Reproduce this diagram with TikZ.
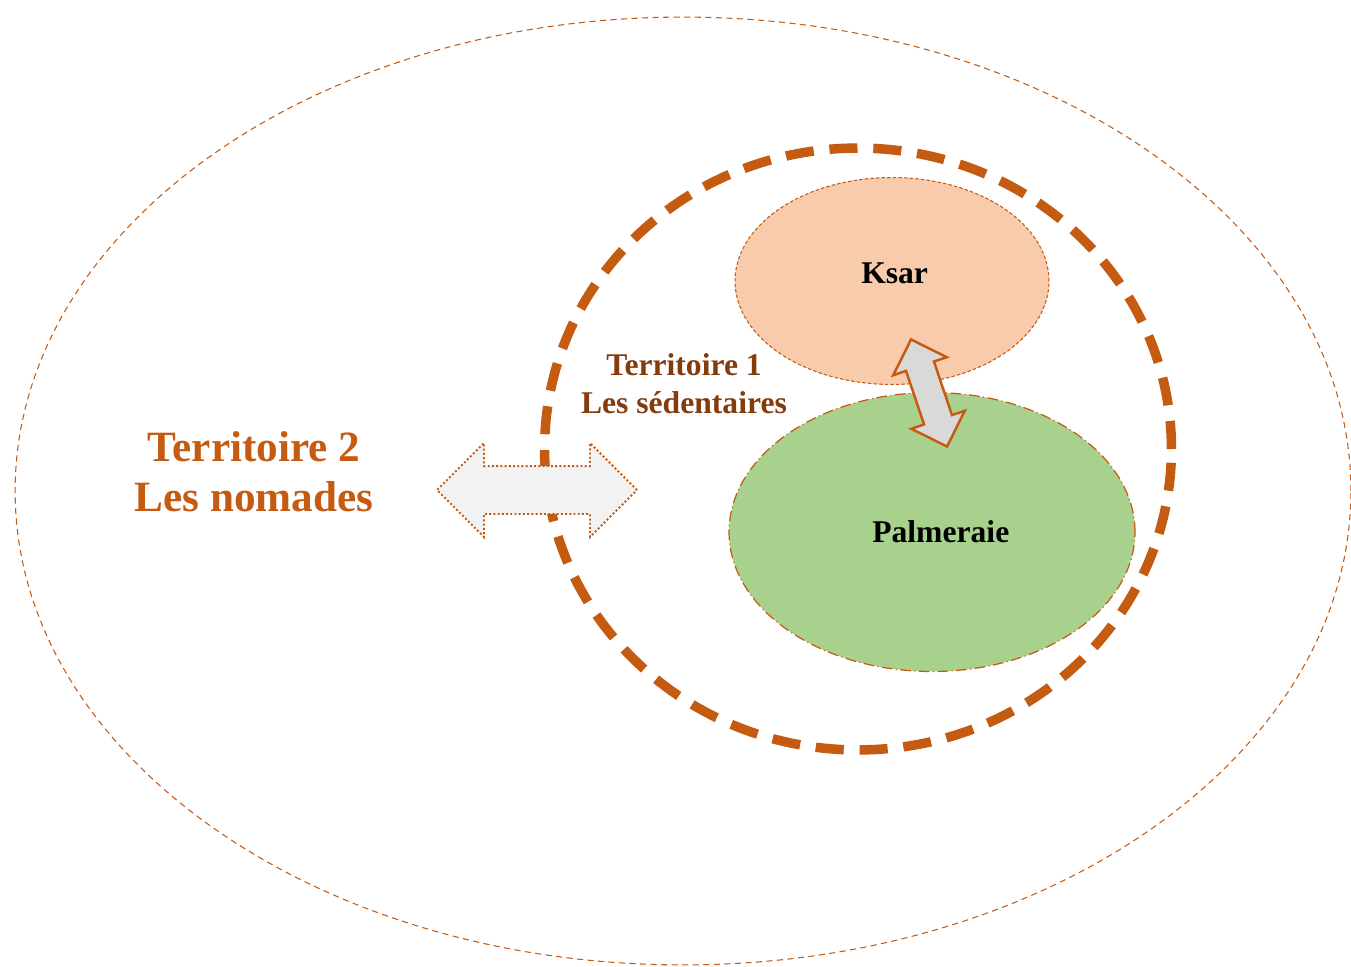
\documentclass[tikz,border=0pt]{standalone}
\usepackage{fontspec}
\setmainfont{Liberation Serif}
\usepackage{xcolor}
\usetikzlibrary{shapes.geometric, shapes.arrows, positioning}

\definecolor{rust}{HTML}{C55A11}
\definecolor{darkrust}{HTML}{843C0C}
\definecolor{peach}{HTML}{F8CBAD}
\definecolor{leaf}{HTML}{A9D18E}

\begin{document}
\begin{tikzpicture}[
    x=0.02cm, y=-0.02cm,
    zone/.style={draw=rust, ellipse, inner sep=0pt},
    title/.style={font=\bfseries\fontsize{18}{21.5}\selectfont, align=center},
    bigtitle/.style={font=\bfseries\fontsize{24.6}{28.5}\selectfont, align=center, text=rust},
    flow/.style={draw=rust, double arrow, inner xsep=0pt}
]
    \useasboundingbox (0,0) rectangle (1351,966);

    % territories
    \node[zone, line width=0.6pt, dash pattern=on 3.5pt off 2.5pt,
          minimum width=26.72cm, minimum height=18.96cm] (nomades) at (683,491) {};
    \node[zone, line width=5.4pt, dash pattern=on 16pt off 9pt,
          minimum width=12.54cm, minimum height=12.04cm] (sedentaires) at (858,449) {};

    % ksar and palm grove
    \node[zone, fill=peach, line width=0.6pt, dash pattern=on 2pt off 1.2pt,
          minimum width=6.28cm, minimum height=4.14cm, title] (ksar) at (892,281) {\hspace{3pt}\raisebox{9pt}{Ksar}};
    \node[zone, fill=leaf, line width=0.7pt, dash pattern=on 6pt off 2pt on 0.6pt off 2pt,
          minimum width=8.12cm, minimum height=5.58cm, title] (palmeraie) at (932,532) {\hspace{10pt}Palmeraie};

    \node[title, text=darkrust] (t1) at (684,384) {Territoire 1\\Les sédentaires};
    \node[bigtitle] (t2) at (254,472) {Territoire 2\\Les nomades};

    % exchanges
    \node[flow, fill=black!5, line width=1.1pt, dash pattern=on 1.1pt off 1.3pt,
          inner ysep=0.46cm, double arrow head extend=0.46cm,
          minimum height=4cm, minimum width=1.84cm] (echange) at (537,490) {};
    \node[flow, fill=black!15, line width=1.4pt, rotate=-71.4,
          inner ysep=0.27cm, double arrow head extend=0.27cm,
          minimum height=2.26cm, minimum width=1.08cm] (lien) at (929,393) {};
\end{tikzpicture}
\end{document}
